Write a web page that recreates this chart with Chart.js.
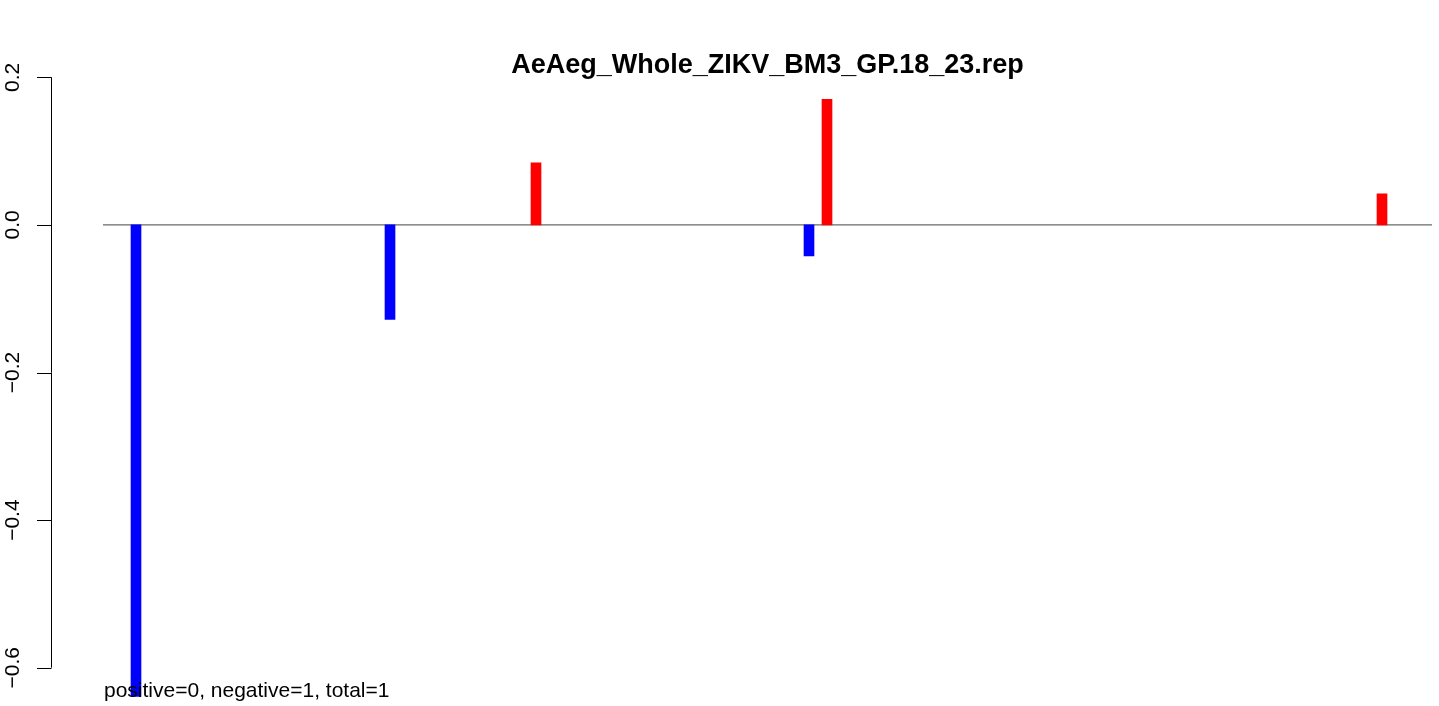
<!DOCTYPE html>
<html>
<head>
<meta charset="utf-8">
<script src="https://cdn.jsdelivr.net/npm/chart.js@4/dist/chart.umd.min.js"></script>
<style>
    html, body { margin: 0; padding: 0; background: #fff; }
    #wrap { width: 1439px; height: 706px; }
</style>
</head>
<body>
<div id="wrap"><canvas id="repChart"></canvas></div>
<script>
"use strict"

const chartTitle = "AeAeg_Whole_ZIKV_BM3_GP.18_23.rep";
const summaryText = "positive=0, negative=1, total=1";

// positions along the x axis and the score at each one
const positions = [33, 287, 433, 706, 724, 1279];
const scores = [-0.639, -0.128, 0.084, -0.042, 0.170, 0.042];

// tick values for the y axis and the x range
const yTicks = [-0.6, -0.4, -0.2, 0.0, 0.2];
const xRange = [0, 1329];

const fontFamily = "'Liberation Sans', Arial, Helvetica, sans-serif";
const chartEl = document.getElementById("repChart");

//negative = blue, positive = red
const barColors = scores.map(v => v < 0 ? "#0000ff" : "#ff0000");

/**
 * Ritar y-axelns linje och tickmarks en bit till vänster om plottytan,
 * samt summeringstexten längst ner.
 */
const axisPlugin = {
    id: "leftAxis",
    afterDatasetsDraw(chart) {
        const ctx = chart.ctx;
        const area = chart.chartArea;
        ctx.save();
        ctx.fillStyle = "#000";
        ctx.font = "21px " + fontFamily;
        ctx.textAlign = "left";
        ctx.textBaseline = "alphabetic";
        ctx.fillText(summaryText, area.left + 1, 697);
        ctx.restore();
    },
    afterDraw(chart) {
        const ctx = chart.ctx;
        const y = chart.scales.y;
        const axisX = chart.chartArea.left - 52;
        const top = y.getPixelForValue(yTicks[yTicks.length - 1]);
        const bottom = y.getPixelForValue(yTicks[0]);

        ctx.save();
        ctx.strokeStyle = "#000";
        ctx.lineWidth = 1;
        ctx.beginPath();
        ctx.moveTo(axisX + 0.5, top);
        ctx.lineTo(axisX + 0.5, bottom);
        yTicks.forEach(t => {
            const py = Math.round(y.getPixelForValue(t)) + 0.5;
            ctx.moveTo(axisX + 0.5, py);
            ctx.lineTo(axisX - 14, py);
        });
        ctx.stroke();
        ctx.restore();
    }
};

new Chart(chartEl, {
    type: "bar",
    data: {
        datasets: [{
            type: "bar",
            data: positions.map((p, i) => ({ x: p, y: scores[i] })),
            backgroundColor: barColors,
            borderWidth: 0,
            barThickness: 10,
            order: 1
        }, {
            //nollinjen
            type: "line",
            data: [{ x: xRange[0], y: 0 }, { x: xRange[1], y: 0 }],
            borderColor: "#6a6a6a",
            borderWidth: 1.2,
            pointRadius: 0,
            order: 2
        }]
    },
    options: {
        responsive: true,
        maintainAspectRatio: false,
        animation: false,
        devicePixelRatio: 1,
        layout: {
            padding: { left: 0, right: 7, top: 0, bottom: 1.4 }
        },
        plugins: {
            legend: { display: false },
            tooltip: { enabled: false },
            title: {
                display: true,
                text: chartTitle,
                fullSize: false,
                color: "#000",
                font: { family: fontFamily, size: 27, weight: "bold", lineHeight: 0.8 },
                padding: { top: 54.7, bottom: 1.0 }
            }
        },
        scales: {
            x: {
                type: "linear",
                min: xRange[0],
                max: xRange[1],
                offset: false,
                display: false
            },
            y: {
                min: -0.65,
                max: 0.2,
                grid: { display: false, drawTicks: false },
                border: { display: false },
                afterFit: (scale) => {
                    scale.width = 103;
                    scale.paddingTop = 0;
                    scale.paddingBottom = 0;
                },
                afterBuildTicks: (scale) => {
                    scale.ticks = yTicks.map(v => ({ value: v }));
                },
                ticks: {
                    color: "#000",
                    font: { family: fontFamily, size: 21 },
                    minRotation: 90,
                    maxRotation: 90,
                    crossAlign: "center",
                    padding: 69,
                    callback: (value) => value.toFixed(1).replace("-", "\u2212")
                }
            }
        }
    },
    plugins: [axisPlugin]
});
</script>
</body>
</html>
